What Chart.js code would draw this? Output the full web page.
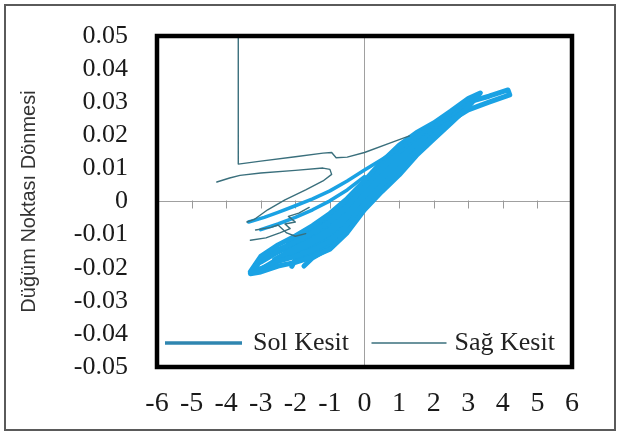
<!DOCTYPE html>
<html>
<head>
<meta charset="utf-8">
<script src="https://cdn.jsdelivr.net/npm/chart.js@4.4.0/dist/chart.umd.min.js"></script>
<style>
  body { margin: 0; background: #fff; }
  #wrap { width: 620px; height: 432px; }
</style>
</head>
<body>
<div id="wrap"><canvas id="donme" width="620" height="432"></canvas></div>
<script>
// axis ticks
var xTicks = [-6, -5, -4, -3, -2, -1, 0, 1, 2, 3, 4, 5, 6];
var yTicks = [0.05, 0.04, 0.03, 0.02, 0.01, 0, -0.01, -0.02, -0.03, -0.04, -0.05];
var seriesNames = ['Sol Kesit', 'Sağ Kesit'];

// Sol Kesit - cycles, [x, y]
var solCycleA = [[-3.3,-0.0218],[-3.0,-0.0213],[-2.5,-0.0195],[-2.0,-0.0184],[-1.5,-0.0167],[-1.0,-0.0144],[-0.5,-0.0094],[0,-0.0025],[0.5,0.003],[1.0,0.008],[1.5,0.0139],[2.0,0.0188],[2.5,0.0237],[3.0,0.0286],[3.35,0.0328],
  [3.0,0.0311],[2.5,0.0273],[2.0,0.0237],[1.5,0.0208],[1.0,0.017],[0.5,0.012],[0,0.0063],[-0.5,0.0009],[-1.0,-0.0036],[-1.5,-0.0073],[-2.0,-0.0104],[-2.5,-0.0131],[-3.0,-0.0166],[-3.3,-0.0212]];
var solCycleB = [[-3.2,-0.0208],[-3.0,-0.0203],[-2.5,-0.0181],[-2.0,-0.0166],[-1.5,-0.0146],[-1.0,-0.012],[-0.5,-0.0071],[0,-0.0005],[0.5,0.005],[1.0,0.01],[1.5,0.0154],[2.0,0.0199],[2.5,0.0245],[3.0,0.0277],[3.6,0.03],[4.2,0.0322],
  [4.15,0.0337],[3.6,0.0318],[3.0,0.03],[2.5,0.0265],[2.0,0.0226],[1.5,0.0193],[1.0,0.015],[0.5,0.01],[0,0.0044],[-0.5,-0.0014],[-1.0,-0.006],[-1.5,-0.0094],[-2.0,-0.0122],[-2.5,-0.0146],[-3.0,-0.0178],[-3.2,-0.0205]];
var solCycleC = [[-2.6,-0.018],[-2.0,-0.0148],[-1.5,-0.0125],[-1.0,-0.0096],[-0.5,-0.0048],[0,0.0014],[0.5,0.007],[1.0,0.012],[1.5,0.017],[2.0,0.021],[2.5,0.025],[2.8,0.0275],
  [2.5,0.0257],[2.0,0.0215],[1.5,0.0177],[1.0,0.013],[0.5,0.008],[0,0.0024],[-0.5,-0.0037],[-1.0,-0.0084],[-1.5,-0.0115],[-2.0,-0.014],[-2.6,-0.0175]];
var solCycleD = [[-2.1,-0.0196],[-2.0,-0.0175],[-1.5,-0.0156],[-1.0,-0.0132],[-0.5,-0.0083],[0,-0.0015],[0.5,0.004],[1.0,0.009],[1.5,0.0147],[2.0,0.0193],[2.3,0.022],
  [2.0,0.0232],[1.5,0.02],[1.0,0.016],[0.5,0.011],[0,0.0053],[-0.5,-0.0002],[-1.0,-0.0048],[-1.5,-0.0084],[-2.0,-0.0113],[-2.2,-0.0125]];
var solCycleE = [[-3.0,-0.0205],[-2.5,-0.0173],[-2.0,-0.0157],[-1.5,-0.0136],[-1.0,-0.0108],[-0.5,-0.006],[0,0.0004],[0.5,0.006],[1.0,0.011],[1.5,0.0162],[2.0,0.0204],[2.5,0.0249],[3.0,0.0295],[3.2,0.031],
  [3.0,0.0303],[2.5,0.0261],[2.0,0.022],[1.5,0.0185],[1.0,0.014],[0.5,0.009],[0,0.0034],[-0.5,-0.0025],[-1.0,-0.0072],[-1.5,-0.0104],[-2.0,-0.0131],[-2.5,-0.0152],[-3.0,-0.0183]];
var solCycleF = [[-1.75,-0.0195],[-1.5,-0.017],[-1.0,-0.014],[-0.5,-0.009],[0,-0.002],[0.5,0.0035],[1.0,0.0085],[1.5,0.0145],[1.8,0.017],
  [1.5,0.0165],[1.0,0.012],[0.5,0.0065],[0,0.0005],[-0.5,-0.0055],[-1.0,-0.0105],[-1.5,-0.0145],[-1.75,-0.016]];
var solUpper1 = [[-3.35,-0.0062],[-2.9,-0.0048],[-2.5,-0.0033],[-2.0,-0.0013],[-1.5,0.0008],[-1.0,0.0032],[-0.5,0.0062],[0,0.0095],[0.5,0.0127],[1.0,0.016],[1.5,0.0195],[2.0,0.0232]];
var solUpper2 = [[-3.0,-0.0085],[-2.5,-0.0068],[-2.0,-0.0048],[-1.5,-0.0025],[-1.0,0.0002],[-0.5,0.0035],[0,0.0075]];

// Sağ Kesit
var sagLPath = [[-3.65,0.052],[-3.65,0.0113],[-3.0,0.0122],[-2.0,0.0135],[-1.2,0.0146],[-0.95,0.0148],[-0.82,0.0132],[-0.5,0.0134],[0,0.0148],[0.75,0.0177],[1.3,0.0198]];
var sagLower = [[-4.27,0.0059],[-3.9,0.0071],[-3.6,0.0079],[-3.0,0.0086],[-2.0,0.0094],[-1.2,0.0101],[-1.0,0.0097],[-0.95,0.0082],[-1.2,0.0062],[-1.7,0.0035],[-2.3,0.0005],[-2.8,-0.0025],[-3.2,-0.0055],[-3.4,-0.0062]];
var sagTangle1 = [[-3.3,-0.0117],[-2.85,-0.011],[-2.45,-0.0095],[-2.15,-0.0082],[-2.3,-0.0068],[-2.0,-0.0062],[-2.2,-0.0045],[-1.9,-0.0035],[-1.6,-0.0018]];
var sagTangle2 = [[-3.15,-0.0086],[-2.7,-0.0078],[-2.5,-0.0071],[-2.25,-0.0095],[-2.0,-0.0105],[-1.7,-0.0097]];

var solColor = '#1aa2e4';
var sagColor = '#3a6f7c';

function pts(arr) {
  return arr.map(function(p) { return {x: p[0], y: p[1]}; });
}
function line(label, arr, color, width) {
  return {label: label, data: pts(arr), showLine: true, borderColor: color, backgroundColor: color,
    borderWidth: width, pointRadius: 0, fill: false, tension: 0, borderJoinStyle: 'round', borderCapStyle: 'round'};
}

var datasets = [];
[sagLPath, sagLower, sagTangle1, sagTangle2].forEach(function(a) { datasets.push(line(seriesNames[1], a, sagColor, 1.4)); });
[solUpper1, solUpper2].forEach(function(a) { datasets.push(line(seriesNames[0], a, solColor, 3.6)); });
[solCycleA, solCycleB, solCycleC, solCycleD, solCycleE, solCycleF].forEach(function(a) { datasets.push(line(seriesNames[0], a, solColor, 5)); });

var serif = '"Liberation Serif", "Times New Roman", serif';

var framePlugin = {
  id: 'frame',
  beforeDraw: function(chart) {
    var c = chart.ctx;
    c.save();
    c.fillStyle = '#fff';
    c.fillRect(0, 0, chart.width, chart.height);
    c.strokeStyle = '#5a5a5a';
    c.lineWidth = 2;
    c.strokeRect(5, 5, 610, 425);
    c.restore();
  },
  beforeDatasetsDraw: function(chart) {
    // small marks along the zero line
    var c = chart.ctx, xs = chart.scales.x, y0 = chart.scales.y.getPixelForValue(0);
    c.save();
    c.strokeStyle = '#9a9a9a';
    c.lineWidth = 1;
    xTicks.forEach(function(v) {
      if (v === 0 || Math.abs(v) === 6) return;
      var px = Math.round(xs.getPixelForValue(v)) + 0.5;
      c.beginPath(); c.moveTo(px, y0 - 1); c.lineTo(px, y0 + 7); c.stroke();
    });
    c.restore();
  },
  afterDatasetsDraw: function(chart) {
    var c = chart.ctx, a = chart.chartArea;
    var xZero = chart.scales.x.getPixelForValue(0);
    c.save();
    // legend inside the plot
    var ly = a.bottom - 24;
    c.font = '26px ' + serif;
    c.fillStyle = '#222';
    c.textBaseline = 'middle';
    c.strokeStyle = '#2f86b0'; c.lineWidth = 3.6;
    c.beginPath(); c.moveTo(a.left + 8, ly); c.lineTo(a.left + 85, ly); c.stroke();
    c.fillText(seriesNames[0], a.left + 96, ly);
    c.strokeStyle = sagColor; c.lineWidth = 1.4;
    c.beginPath(); c.moveTo(xZero + 7, ly); c.lineTo(xZero + 82, ly); c.stroke();
    c.fillText(seriesNames[1], xZero + 90, ly);
    // heavy plot frame
    c.strokeStyle = '#000';
    c.lineWidth = 4.5;
    c.strokeRect(a.left, a.top, a.right - a.left, a.bottom - a.top);
    c.restore();
  }
};

function zeroGrid(ctx) {
  return ctx.tick && ctx.tick.value === 0 ? '#a0a0a0' : 'rgba(0,0,0,0)';
}

new Chart('donme', {
  type: 'scatter',
  data: { datasets: datasets },
  plugins: [framePlugin],
  options: {
    responsive: false,
    animation: false,
    layout: { padding: { left: 13, top: 36, right: 48, bottom: 0 } },
    plugins: { legend: { display: false }, tooltip: { enabled: false } },
    scales: {
      x: {
        type: 'linear', min: -6, max: 6,
        afterFit: function(s) { s.height = 65; },
        afterBuildTicks: function(s) { s.ticks = xTicks.map(function(v) { return {value: v}; }); },
        ticks: { autoSkip: false, maxRotation: 0, padding: 20, color: '#1a1a1a',
          font: { family: serif, size: 28 } },
        grid: { color: zeroGrid, drawTicks: false, lineWidth: 1 },
        border: { display: false }
      },
      y: {
        type: 'linear', min: -0.05, max: 0.05,
        afterFit: function(s) { s.width = 144; },
        afterBuildTicks: function(s) { s.ticks = yTicks.map(function(v) { return {value: v}; }); },
        ticks: { autoSkip: false, padding: 0, color: '#1a1a1a',
          font: { family: serif, size: 26 },
          callback: function(v) { return Math.abs(v) < 1e-9 ? '0' : String(+v.toFixed(2)); } },
        grid: { color: zeroGrid, drawTicks: true, tickLength: 29, tickColor: 'rgba(0,0,0,0)', lineWidth: 1 },
        border: { display: false },
        title: { display: true, text: 'Düğüm Noktası Dönmesi', color: '#333',
          font: { family: '"Liberation Sans", Arial, sans-serif', size: 20 }, padding: { top: 4, bottom: 4 } }
      }
    }
  }
});
</script>
</body>
</html>
